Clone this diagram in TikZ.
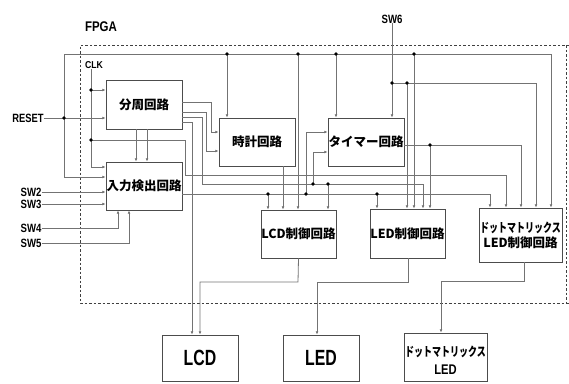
\documentclass[tikz,border=0pt]{standalone}
\usepackage{fontspec}
\setmainfont{Liberation Sans}
\newfontfamily\jpfont{Noto Sans CJK JP}
\usetikzlibrary{arrows.meta}
\newcommand\nar[2][0.8]{\scalebox{#1}[1]{#2}}
\begin{document}
\begin{tikzpicture}[x=1pt,y=-1pt,
  wire/.style={draw=black!55,line width=0.8pt},
  arr/.style={wire,-{Latex[length=3.2pt,width=2.8pt]}},
  blk/.style={draw=black!70,line width=0.9pt,fill=white,inner sep=0pt,font=\jpfont\bfseries\fontsize{12.5}{15}\selectfont,align=center},
  lbl/.style={inner sep=0pt,font=\bfseries\fontsize{12}{14}\selectfont},
  jn/.style={circle,fill=black,inner sep=0pt,minimum size=3.6pt}]
\useasboundingbox (0,0) rectangle (569,383);
% FPGA frame
\draw[black!75,line width=0.8pt,dash pattern=on 2.5pt off 2pt] (569,45) -- (80,45) -- (80,303) -- (569,303);
\draw[black!75,line width=0.8pt,dash pattern=on 2.5pt off 2pt] (566,45) -- (566,303);
\node[lbl,font=\bfseries\fontsize{14}{16}\selectfont] (fpga) at (101,27) {\nar[0.82]{FPGA}};
% blocks
\node[blk,minimum width=76pt,minimum height=49pt] (bun) at (144,104.5) {分周回路};
\node[blk,minimum width=76pt,minimum height=48pt] (nyu) at (144,186) {入力検出回路};
\node[blk,minimum width=76pt,minimum height=48pt] (tok) at (257,142) {時計回路};
\node[blk,minimum width=76pt,minimum height=48pt] (tim) at (366,142) {タイマー回路};
\node[blk,minimum width=75pt,minimum height=48pt] (lcdc) at (298.5,234) {LCD制御回路};
\node[blk,minimum width=75pt,minimum height=49pt] (ledc) at (407.5,233.5) {LED制御回路};
\node[blk,minimum width=83pt,minimum height=54pt] (dotc) at (520.5,235) {\nar[0.72]{ドットマトリックス}\\LED制御回路};
\node[blk,minimum width=76pt,minimum height=46pt,font=\bfseries\fontsize{22}{24}\selectfont] (lcd) at (200,358) {\nar[0.72]{LCD}};
\node[blk,minimum width=76pt,minimum height=46pt,font=\bfseries\fontsize{22}{24}\selectfont] (led) at (321,358) {\nar[0.72]{LED}};
\node[blk,minimum width=83pt,minimum height=48pt,minimum height=48pt] (dot) at (445.5,357) {};
\node[inner sep=0pt,font=\jpfont\bfseries\fontsize{12.5}{14}\selectfont] (dott) at (445.5,352) {\nar[0.72]{ドットマトリックス}};
\node[inner sep=0pt,font=\bfseries\fontsize{14}{16}\selectfont] (dotl) at (445.5,370) {\nar[0.8]{LED}};
% labels
\node[lbl] (reset) at (28,118) {\nar[0.78]{RESET}};
\node[lbl,font=\bfseries\fontsize{10}{12}\selectfont] (clk) at (94,65) {\nar[0.87]{CLK}};
\node[lbl] (sw2) at (31,192) {\nar{SW2}};
\node[lbl] (sw3) at (31,204) {\nar{SW3}};
\node[lbl] (sw4) at (31,228) {\nar{SW4}};
\node[lbl] (sw5) at (31,243) {\nar{SW5}};
\node[lbl] (sw6) at (392,19) {\nar{SW6}};
% junction coordinates
\coordinate (rj) at (64,118);
\coordinate (c1) at (91,90);
\coordinate (c2) at (91,140);
\coordinate (t1) at (227,54);
\coordinate (t2) at (298,54);
\coordinate (t3) at (336,54);
\coordinate (t4) at (414,54);
\coordinate (s1) at (392,83);
\coordinate (s2) at (407,83);
\coordinate (m1) at (430,145);
\coordinate (a1) at (268,194);
\coordinate (a2) at (306,194);
\coordinate (a3) at (377,194);
\coordinate (b1) at (313,184);
\coordinate (b2) at (328,184);
% RESET
\draw[arr] (reset.east) -- (bun.west |- rj);
\draw[wire] (rj) -- (64,54) -- (551,54);
\draw[arr] (551,54) -- (551,0 |- dotc.north);
\draw[arr] (rj) -- (64,177) -- (nyu.west |- 0,177);
\draw[arr] (t1) -- (t1 |- tok.north);
\draw[arr] (t2) -- (t2 |- lcdc.north);
\draw[arr] (t3) -- (t3 |- tim.north);
\draw[arr] (t4) -- (t4 |- ledc.north);
% CLK
\draw[arr] (clk.south -| 91,0) -- (91,167) -- (nyu.west |- 0,167);
\draw[arr] (c1) -- (bun.west |- c1);
\draw[wire] (c2) -- (185,140) -- (185,175) -- (506,175);
\draw[arr] (506,175) -- (506,0 |- dotc.north);
% SW6
\draw[arr] (sw6.south) -- (sw6.south |- tim.north);
\draw[wire] (s1) -- (536,83);
\draw[arr] (536,83) -- (536,0 |- dotc.north);
\draw[arr] (s2) -- (s2 |- ledc.north);
% timer output
\draw[wire] (tim.east |- m1) -- (521,145);
\draw[arr] (521,145) -- (521,0 |- dotc.north);
\draw[arr] (m1) -- (m1 |- ledc.north);
% clock output
\draw[arr] (283,0 |- tok.south) -- (283,0 |- lcdc.north);
% bunshu outputs
\draw[arr] (bun.east |- 0,102) -- (211,102) -- (211,132) -- (tok.west |- 0,132);
\draw[arr] (bun.east |- 0,112) -- (206,112) -- (206,151) -- (tok.west |- 0,151);
\draw[wire] (bun.east |- 0,117) -- (202,117) -- (202,184) -- (423,184);
\draw[arr] (423,184) -- (423,0 |- ledc.north);
\draw[arr] (bun.east |- 0,122) -- (192,122) -- (192,0 |- lcd.north);
\draw[arr] (136,0 |- bun.south) -- (136,0 |- nyu.north);
\draw[arr] (147,0 |- bun.south) -- (147,0 |- nyu.north);
% bus A from input detection
\draw[wire] (nyu.east |- a1) -- (490,194);
\draw[arr] (490,194) -- (490,0 |- dotc.north);
\draw[arr] (a1) -- (a1 |- lcdc.north);
\draw[arr] (a2) -- (306,132) -- (tim.west |- 0,132);
\draw[arr] (a3) -- (a3 |- ledc.north);
\draw[arr] (b1) -- (313,152) -- (tim.west |- 0,152);
\draw[arr] (b2) -- (b2 |- lcdc.north);
% switches
\draw[arr] (sw2.east) -- (nyu.west |- sw2);
\draw[arr] (sw3.east) -- (nyu.west |- sw3);
\draw[arr] (sw4.east) -- (118,228) -- (118,0 |- nyu.south);
\draw[arr] (sw5.east) -- (129,243) -- (129,0 |- nyu.south);
% outputs to devices
\draw[arr] (lcdc.south) -- (298,282) -- (200,282) -- (200,0 |- lcd.north);
\draw[arr] (408,0 |- ledc.south) -- (408,282) -- (317,282) -- (317,0 |- led.north);
\draw[arr] (524,0 |- dotc.south) -- (524,281) -- (441,281) -- (441,0 |- dot.north);
% dots
\foreach \p in {rj,c1,c2,t1,t2,t3,t4,s1,s2,m1,a1,a2,a3,b1,b2}
  \node[jn] at (\p) {};
\end{tikzpicture}
\end{document}
